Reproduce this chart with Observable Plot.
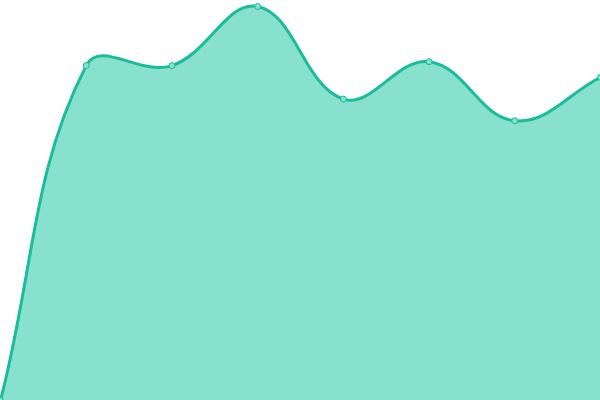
<!DOCTYPE html>
<html>
<head>
<meta charset="utf-8">
<script src="https://cdn.jsdelivr.net/npm/d3@7"></script>
<script src="https://cdn.jsdelivr.net/npm/@observablehq/plot@0.6"></script>
<style>
  html, body { margin: 0; padding: 0; background: #fff; }
  svg { display: block; }
</style>
</head>
<body>
<div id="chart"></div>
<script>
const indices = [0, 1, 2, 3, 4, 5, 6, 7];
const values = [0, 85, 85, 100, 76.5, 86, 71, 82];
const data = indices.map((i, k) => ({i, v: values[k]}));

// Tension-based spline curve (distance-weighted cardinal, tension 0.4)
function tensionSpline(context) {
  const t = 0.4;
  let pts, line;
  return {
    areaStart() { line = 0; },
    areaEnd() { line = NaN; },
    lineStart() { pts = []; },
    point(x, y) { pts.push([+x, +y]); },
    lineEnd() {
      const n = pts.length;
      if (n) {
        if (line) context.lineTo(pts[0][0], pts[0][1]);
        else context.moveTo(pts[0][0], pts[0][1]);
        const cps = pts.map((p, i) => {
          const prev = pts[Math.max(0, i - 1)], next = pts[Math.min(n - 1, i + 1)];
          const d01 = Math.hypot(p[0] - prev[0], p[1] - prev[1]);
          const d12 = Math.hypot(next[0] - p[0], next[1] - p[1]);
          let s01 = d01 / (d01 + d12), s12 = d12 / (d01 + d12);
          if (isNaN(s01)) s01 = 0;
          if (isNaN(s12)) s12 = 0;
          const fa = t * s01, fb = t * s12;
          const dx = next[0] - prev[0], dy = next[1] - prev[1];
          return {
            px: p[0] - fa * dx, py: p[1] - fa * dy,
            nx: p[0] + fb * dx, ny: p[1] + fb * dy
          };
        });
        for (let i = 1; i < n; i++) {
          const a = cps[i - 1], b = cps[i];
          context.bezierCurveTo(a.nx, a.ny, b.px, b.py, pts[i][0], pts[i][1]);
        }
      }
      if (line || (line !== 0 && n === 1)) context.closePath();
      line = 1 - line;
    }
  };
}

const chart = Plot.plot({
  width: 600,
  height: 400,
  margin: 0,
  marginTop: 6,
  x: {domain: [0, 7], axis: null},
  y: {domain: [0, 100], axis: null},
  marks: [
    Plot.areaY(data, {x: "i", y: "v", curve: tensionSpline, fill: "#88e0cf"}),
    Plot.lineY(data, {x: "i", y: "v", curve: tensionSpline, stroke: "#1abc9c", strokeWidth: 3}),
    Plot.dot(data, {x: "i", y: "v", r: 3, fill: "#88e0cf", stroke: "#1abc9c", strokeWidth: 1})
  ]
});
document.getElementById("chart").append(chart);
</script>
</body>
</html>
